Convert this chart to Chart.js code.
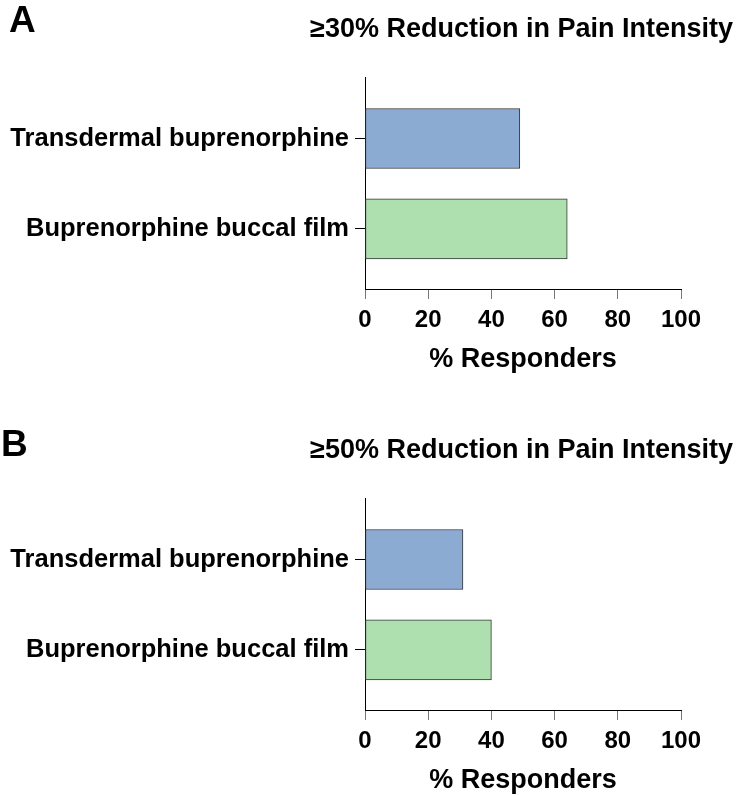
<!DOCTYPE html>
<html>
<head>
<meta charset="utf-8">
<script src="https://cdn.jsdelivr.net/npm/chart.js@4"></script>
<style>
  html, body { margin: 0; padding: 0; background: #fff; overflow: hidden; }
  .panel { position: relative; width: 736px; height: 421px; }
</style>
</head>
<body>
<div class="panel"><canvas id="chartA"></canvas></div>
<div class="panel"><canvas id="chartB"></canvas></div>
<script>
// data
const categories = ['Transdermal buprenorphine', 'Buprenorphine buccal film'];
const responders30 = [49, 64];
const responders50 = [31, 40];
const barColors = ['#8cabd3', '#aedfae'];
const xTickStep = 20;
const xMax = 100;
const axisTitle = '% Responders';

const FONT = "'Liberation Sans', Arial, Helvetica, sans-serif";

// panel letter (left) and heading (right-aligned) on the same line
const headingPlugin = {
  id: 'heading',
  afterDraw(chart, args, opts) {
    const ctx = chart.ctx;
    ctx.save();
    ctx.fillStyle = '#000';
    ctx.textBaseline = 'alphabetic';
    ctx.font = 'bold 37px ' + FONT;
    ctx.textAlign = 'left';
    ctx.fillText(opts.letter, opts.letterX, opts.letterY);

    ctx.font = 'bold 27px ' + FONT;
    ctx.textAlign = 'right';
    ctx.fillText(opts.text, opts.right, 37);
    ctx.restore();
  }
};

function makePanel(id, letter, letterX, letterY, heading, values) {
  const ctx = document.getElementById(id).getContext('2d');
  return new Chart(ctx, {
    type: 'bar',
    data: {
      datasets: [{
        data: values.map((v, i) => ({ x: v, y: i })),
        backgroundColor: barColors,
        borderColor: '#333',
        borderWidth: 1,
        borderSkipped: false,
        barThickness: 60
      }]
    },
    plugins: [headingPlugin],
    options: {
      indexAxis: 'y',
      responsive: true,
      maintainAspectRatio: false,
      animation: false,
      layout: { padding: { top: 77, right: 55, left: 0, bottom: 0 } },
      plugins: {
        legend: { display: false },
        tooltip: { enabled: false },
        heading: { letter: letter, letterX: letterX, letterY: letterY, text: heading, right: 733 }
      },
      scales: {
        y: {
          type: 'linear',
          reverse: true,
          offset: false,
          min: -0.68,
          max: 1.665,
          afterBuildTicks: (scale) => { scale.ticks = categories.map((c, i) => ({ value: i })); },
          afterFit: (scale) => { scale.width = 365; },
          ticks: {
            callback: (v) => categories[v],
            color: '#000',
            padding: 6,
            font: { family: FONT, size: 25.5, weight: 'bold' }
          },
          grid: { offset: false, drawOnChartArea: false, drawTicks: true, tickLength: 10, color: '#000' },
          border: { display: true, color: '#000', width: 1 }
        },
        x: {
          min: 0,
          max: xMax,
          afterFit: (scale) => { scale.height = 132; },
          ticks: {
            stepSize: xTickStep,
            color: '#000',
            padding: 7,
            font: { family: FONT, size: 24, weight: 'bold' }
          },
          grid: { drawOnChartArea: false, drawTicks: true, tickLength: 10, color: '#777' },
          border: { display: true, color: '#000', width: 1 },
          title: {
            display: true,
            text: axisTitle,
            color: '#000',
            font: { family: FONT, size: 27, weight: 'bold' },
            padding: { top: 0, bottom: 45 }
          }
        }
      }
    }
  });
}

makePanel('chartA', 'A', 9, 32, '\u226530% Reduction in Pain Intensity', responders30);
makePanel('chartB', 'B', 1, 35, '\u226550% Reduction in Pain Intensity', responders50);
</script>
</body>
</html>
